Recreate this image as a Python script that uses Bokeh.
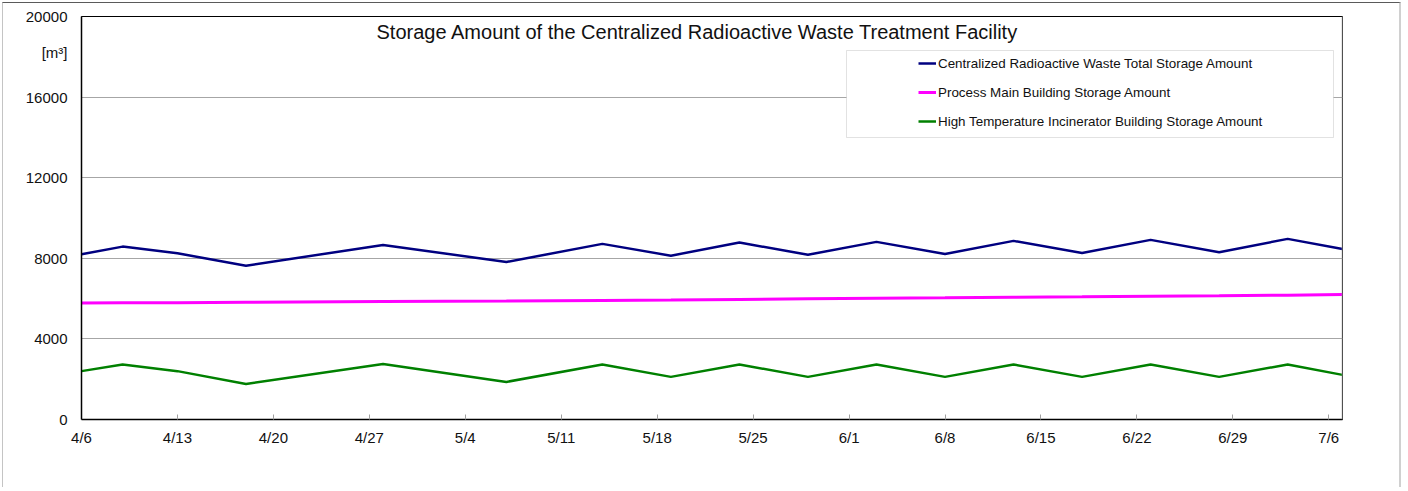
from datetime import datetime
from bokeh.plotting import figure
from bokeh.models import (FixedTicker, CustomJSTickFormatter, Range1d, Legend, LegendItem,
                          Label, BoxAnnotation, Span)
from bokeh.embed import file_html
from bokeh.resources import INLINE

# ---- data ----
dates = ["2020-04-06", "2020-04-09", "2020-04-13", "2020-04-18", "2020-04-28", "2020-05-07",
         "2020-05-14", "2020-05-19", "2020-05-24", "2020-05-29", "2020-06-03", "2020-06-08",
         "2020-06-13", "2020-06-18", "2020-06-23", "2020-06-28", "2020-07-03", "2020-07-07"]
total_storage = [8200, 8580, 8250, 7630, 8665, 7815, 8715, 8130, 8780, 8180, 8815, 8215,
                 8865, 8265, 8915, 8300, 8965, 8465]
process_main = [5780, 5790, 5800, 5815, 5850, 5880, 5910, 5930, 5960, 5990, 6020, 6040,
                6070, 6090, 6120, 6140, 6170, 6200]
incinerator = [2400, 2730, 2400, 1765, 2750, 1865, 2730, 2115, 2730, 2115, 2730, 2115,
               2730, 2115, 2730, 2115, 2730, 2215]
tick_dates = ["2020-04-06", "2020-04-13", "2020-04-20", "2020-04-27", "2020-05-04", "2020-05-11",
              "2020-05-18", "2020-05-25", "2020-06-01", "2020-06-08", "2020-06-15", "2020-06-22",
              "2020-06-29", "2020-07-06"]
y_ticks = [0, 4000, 8000, 12000, 16000, 20000]
series_names = ["Centralized Radioactive Waste Total Storage Amount",
                "Process Main Building Storage Amount",
                "High Temperature Incinerator Building Storage Amount"]
title_text = "Storage Amount of the Centralized Radioactive Waste Treatment Facility"
unit_text = "[m³]"
unit_label_pos = 18200   # vertical position of the unit label on the y axis
x_start, x_end = "2020-04-06", "2020-07-07"

def to_dt(s):
    return datetime.strptime(s, "%Y-%m-%d")

def to_ms(s):
    return (to_dt(s) - datetime(1970, 1, 1)).total_seconds() * 1000.0

xs = [to_dt(d) for d in dates]
FONT = "Liberation Sans"

p = figure(width=1399, height=485, x_axis_type="datetime", output_backend="svg",
           toolbar_location=None, min_border_left=78, min_border_right=60,
           min_border_top=13, min_border_bottom=69)
p.styles = {"margin-left": "2px", "margin-top": "2px",
            "border-top": "1px solid #5a5a5a",
            "border-left": "1px solid #c4c4c4",
            "border-right": "2px solid #d0d0d0"}
p.x_range = Range1d(to_ms(x_start), to_ms(x_end))
p.y_range = Range1d(0, 20000)
p.background_fill_color = "white"
p.border_fill_color = "white"
p.outline_line_color = "black"
p.outline_line_width = 1

# grid
p.xgrid.grid_line_color = None
p.ygrid.ticker = FixedTicker(ticks=y_ticks)
p.ygrid.grid_line_color = "#a6a6a6"
p.ygrid.grid_line_width = 1

# axes
p.yaxis.ticker = FixedTicker(ticks=y_ticks + [unit_label_pos])
p.yaxis.major_label_overrides = {unit_label_pos: unit_text}
p.xaxis.ticker = FixedTicker(ticks=[to_ms(t) for t in tick_dates])
p.xaxis.formatter = CustomJSTickFormatter(code="""
    const d = new Date(tick);
    return (d.getUTCMonth() + 1) + "/" + d.getUTCDate();
""")
for ax in (p.xaxis[0], p.yaxis[0]):
    ax.axis_line_color = "black"
    ax.axis_line_width = 1.5
    ax.major_label_text_font = FONT
    ax.major_label_text_font_size = "15px"
    ax.major_label_text_color = "#111111"
    ax.minor_tick_line_color = None
p.xaxis.major_tick_in = 5
p.xaxis.major_tick_out = 0
p.xaxis.major_tick_line_color = "#a0a0a0"
p.xaxis.major_label_standoff = 9
p.yaxis.major_tick_in = 0
p.yaxis.major_tick_out = 0
p.yaxis.major_label_standoff = 14

# right border gray
p.add_layout(Span(location=to_ms(x_end), dimension="height", line_color="#a0a0a0", line_width=1.5))

r1 = p.line(xs, total_storage, line_color="#000080", line_width=2.5)
r2 = p.line(xs, process_main, line_color="#FF00FF", line_width=3)
r3 = p.line(xs, incinerator, line_color="#008000", line_width=2.5)

# legend box
p.add_layout(BoxAnnotation(left=765, right=1252, bottom=282, top=369,
                           left_units="screen", right_units="screen",
                           bottom_units="screen", top_units="screen",
                           fill_color="white", fill_alpha=1.0,
                           line_color="#a0a0a0", line_width=1, level="overlay"))
legend = Legend(items=[LegendItem(label=series_names[0], renderers=[r1]),
                       LegendItem(label=series_names[1], renderers=[r2]),
                       LegendItem(label=series_names[2], renderers=[r3])],
                location=(837, 288), padding=0, margin=0, spacing=9,
                glyph_width=18, glyph_height=20, label_height=20, label_standoff=2,
                border_line_color=None, background_fill_alpha=0,
                label_text_font=FONT, label_text_font_size="13.4px",
                label_text_color="#111111")
p.add_layout(legend)

p.add_layout(Label(x=295, y=388, x_units="screen", y_units="screen", text=title_text,
                   text_font=FONT, text_font_size="20px", text_color="#111111",
                   text_baseline="middle", text_align="left"))

open("out.html", "w").write(file_html(p, INLINE))
